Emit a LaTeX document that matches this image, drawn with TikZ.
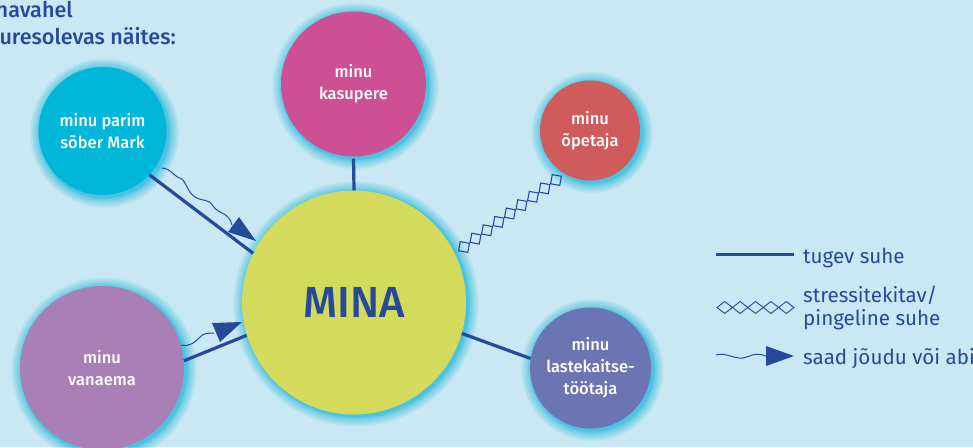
\documentclass[tikz,border=0pt]{standalone}
\usepackage{fontspec}
\setmainfont{Fira Sans}
\newfontfamily\medfont{Fira Sans Medium}
\usetikzlibrary{calc}
\definecolor{bgc}{HTML}{C9E8F3}
\definecolor{ink}{HTML}{264A9B}
\definecolor{glowc}{HTML}{22C0E2}
\definecolor{cMark}{HTML}{00B6D9}
\definecolor{cKasu}{HTML}{CC5093}
\definecolor{cOpe}{HTML}{CF5B5A}
\definecolor{cMina}{HTML}{D4DA5C}
\definecolor{cVana}{HTML}{A97FB7}
\definecolor{cLast}{HTML}{6C75B3}
\tikzset{
  blob/.style={circle,inner sep=0pt,align=center,text=white,font=\fontsize{16.5}{22}\selectfont\medfont},
  lift/.style={execute at begin node={\rule{0pt}{16pt}}},
  strong/.style={draw=ink,line width=3.2pt},
  wave/.style={draw=ink,line width=1pt},
  tip/.style={fill=ink,draw=none},
  dia/.style={draw=ink,line width=1.1pt,fill=none,minimum size=9.3pt,inner sep=0pt,rotate=-10,shape=rectangle},
  legdia/.style={draw=ink,line width=0.9pt,fill=none},
  legtext/.style={text=ink,anchor=base west,align=left,inner sep=0pt,font=\fontsize{20.6}{23}\selectfont},
  titletext/.style={text=ink,anchor=base east,inner sep=0pt,font=\fontsize{21.6}{23}\selectfont\medfont}
}
\newcommand{\glowat}[3]{%
  \foreach \g in {1,2,...,30}{
    \fill[glowc,fill opacity=0.04] ({#1+2},{#2+2}) circle ({#3+1+10*(\g/30)^2});
  }%
}
\begin{document}
\begin{tikzpicture}[x=1pt,y=-1pt]
\useasboundingbox (0,0) rectangle (973,447);
\fill[bgc] (0,0) rectangle (973,447);
\begin{scope}
\clip (0,0) rectangle (973,447);
\glowat{102.5}{131}{64}
\glowat{353.5}{84}{72.5}
\glowat{590}{130.5}{50}
\glowat{354}{302}{112}
\glowat{102}{368}{82}
\glowat{590.5}{368}{60.5}

\node[blob,lift,fill=cMark,minimum size=128pt] (mark) at (102.5,131) {minu parim\\sõber Mark};
\node[blob,lift,fill=cKasu,minimum size=145pt] (kasu) at (353.5,84) {minu\\kasupere};
\node[blob,lift,fill=cOpe,minimum size=100pt] (ope) at (590,130.5) {minu\\õpetaja};
\node[blob,lift,fill=cVana,minimum size=164pt] (vana) at (102,368) {minu\\vanaema};
\node[blob,lift,fill=cLast,minimum size=121pt] (last) at (590.5,368) {minu\\lastekaitse-\\töötaja};
\node[blob,fill=cMina,minimum size=224pt,text=ink,font=\fontsize{43.5}{44}\selectfont\medfont] (mina) at (354,302.5) {MINA};

\draw[strong,shorten <=2pt] (kasu.south) -- (mina.north);
\draw[strong] (mark.-43) -- (mina.154.6);
\draw[strong] (vana.5.6) -- (mina.197);
\draw[strong] (mina.-16) -- (last.171.3);

% stressful link
\coordinate (za) at (464,247);
\coordinate (zb) at (556,180);
\foreach \t [count=\i] in {0,0.125,...,1.01}{
  \node[dia] (z\i) at ($(za)!\t!(zb)$) {};
}

% wavy arrows
\coordinate (w1s) at (162,168);
\coordinate (w1e) at (232,225);
\draw[wave] (w1s) .. controls (170,168) and (176,178) .. (180,178)
  .. controls (186,180) and (187,192) .. (195,197)
  .. controls (203,202) and (208,198) .. (213,206)
  .. controls (218,214) and (229,212) .. (w1e);
\fill[tip] (239,217) -- (228,232) -- (256,241) -- cycle;

\coordinate (w2s) at (181,345);
\coordinate (w2e) at (214,333);
\draw[wave] (w2s) .. controls (190,347) and (195,342) .. (199,338)
  .. controls (203,333) and (208,333) .. (w2e);
\fill[tip] (212,323) -- (220,342) -- (242,322) -- cycle;

% legend
\coordinate (l1a) at (716,254.5);
\coordinate (l1b) at (794,254.5);
\draw[strong] (l1a) -- (l1b);
\node[legtext] (t1) at (803,263) {tugev suhe};

\foreach \x in {0,1,2,3,4}{
  \draw[legdia] ({717+15.4*\x},307.5) -- ({724.7+15.4*\x},301.5) -- ({732.4+15.4*\x},307.5) -- ({724.7+15.4*\x},313.5) -- cycle;
}
\node[legtext] (t2a) at (803,302) {stressitekitav/};
\node[legtext] (t2b) at (803,325) {pingeline suhe};

\coordinate (l3a) at (716,355);
\coordinate (l3b) at (767,356.5);
\draw[wave] (l3a) .. controls (726,352) and (733,359) .. (743,358)
  .. controls (750,357) and (755,351) .. (l3b);
\fill[tip] (766,346) -- (766,366) -- (794,356) -- cycle;
\node[legtext] (t3) at (803,364) {saad jõudu või abi};

% heading, cut by the picture's edge as in the reference
\node[titletext] (h1) at (73,17) {navahel};
\node[titletext] (h2) at (176,44) {uresolevas näites:};
\end{scope}
\end{tikzpicture}
\end{document}
